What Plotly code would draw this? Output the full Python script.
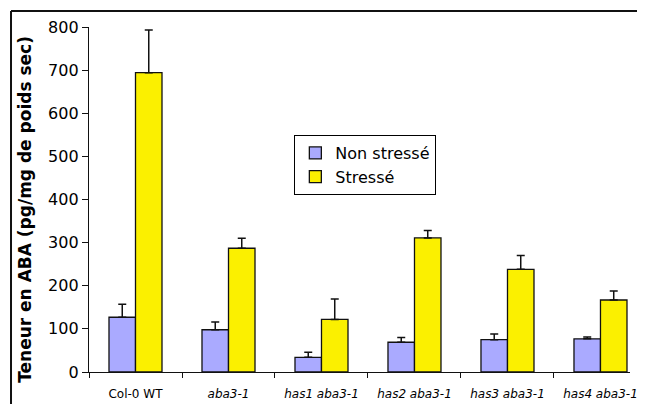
import plotly.graph_objects as go

categories = ["Col-0 WT", "<i>aba3-1</i>", "<i>has1 aba3-1</i>", "<i>has2 aba3-1</i>",
              "<i>has3 aba3-1</i>", "<i>has4 aba3-1</i>"]
non_stresse = [127, 98, 34, 69, 75, 77]
non_stresse_err = [30, 18, 12, 11, 13, 4]
stresse = [694, 287, 122, 311, 238, 167]
stresse_err = [99, 23, 47, 17, 32, 21]
y_ticks = [0, 100, 200, 300, 400, 500, 600, 700, 800]

FONT = "DejaVu Sans"
OFF = 8  # page body margin
W, H = 645 - 2 * OFF, 396
L, R, T = 89 - OFF, 0, 27 - OFF
B = H - (372 - OFF)

plot_w = W - L - R
plot_h = H - T - B


def px_x(x):  # page px -> paper x
    return (x - 89) / plot_w


def px_y(y):  # page px -> paper y
    return (372 - y) / plot_h


fig = go.Figure()
fig.add_trace(go.Bar(
    name="Non stressé", x=categories, y=non_stresse,
    marker=dict(color="#AAAAFF", line=dict(color="#111111", width=1.3)),
    error_y=dict(type="data", array=non_stresse_err, arrayminus=[0]*6, symmetric=False,
                 color="#111111", thickness=1.5, width=4),
))
fig.add_trace(go.Bar(
    name="Stressé", x=categories, y=stresse,
    marker=dict(color="#FBF000", line=dict(color="#111111", width=1.3)),
    error_y=dict(type="data", array=stresse_err, arrayminus=[0]*6, symmetric=False,
                 color="#111111", thickness=1.5, width=4),
))

cat_px = 94.2
frame = dict(color="#111111", width=2)
fig.update_layout(
    width=W, height=H,
    margin=dict(l=L, r=R, t=T, b=B, pad=0),
    paper_bgcolor="white", plot_bgcolor="white",
    barmode="group", bargap=0.43, bargroupgap=0,
    font=dict(family=FONT, color="black"),
    showlegend=True,
    legend=dict(
        x=px_x(297), y=px_y(135), xanchor="left", yanchor="top",
        bordercolor="black", borderwidth=1, bgcolor="white",
        font=dict(family=FONT, size=16, color="black"),
        itemwidth=30, tracegroupgap=0,
    ),
    xaxis=dict(
        range=[-0.5, -0.5 + plot_w / cat_px],
        tickson="boundaries", ticks="outside", ticklen=5, tickwidth=1.3, tickcolor="#111111",
        showline=True, linecolor="#111111", linewidth=1.3,
        showgrid=False, zeroline=False,
        tickfont=dict(family=FONT, size=12, color="black"),
        ticklabelstandoff=10,
    ),
    yaxis=dict(
        range=[0, 800], tickvals=y_ticks,
        ticks="outside", ticklen=6, tickwidth=1.3, tickcolor="#111111",
        showline=True, linecolor="#111111", linewidth=1.3,
        showgrid=False, zeroline=False,
        tickfont=dict(family=FONT, size=16, color="black"),
    ),
    shapes=[
        dict(type="line", xref="paper", yref="paper",
             x0=px_x(10), x1=px_x(10), y0=px_y(430), y1=px_y(11), line=frame, layer="below"),
        dict(type="line", xref="paper", yref="paper",
             x0=px_x(10), x1=px_x(660), y0=px_y(11), y1=px_y(11), line=frame, layer="below"),
    ],
    annotations=[dict(
        text="<b>Teneur en ABA (pg/mg de poids sec)</b>",
        xref="paper", yref="paper",
        x=px_x(24), y=px_y(209),
        xanchor="center", yanchor="middle", textangle=-90, showarrow=False,
        font=dict(family=FONT, size=17, color="black"),
    )],
)

fig.write_html("out.html")
